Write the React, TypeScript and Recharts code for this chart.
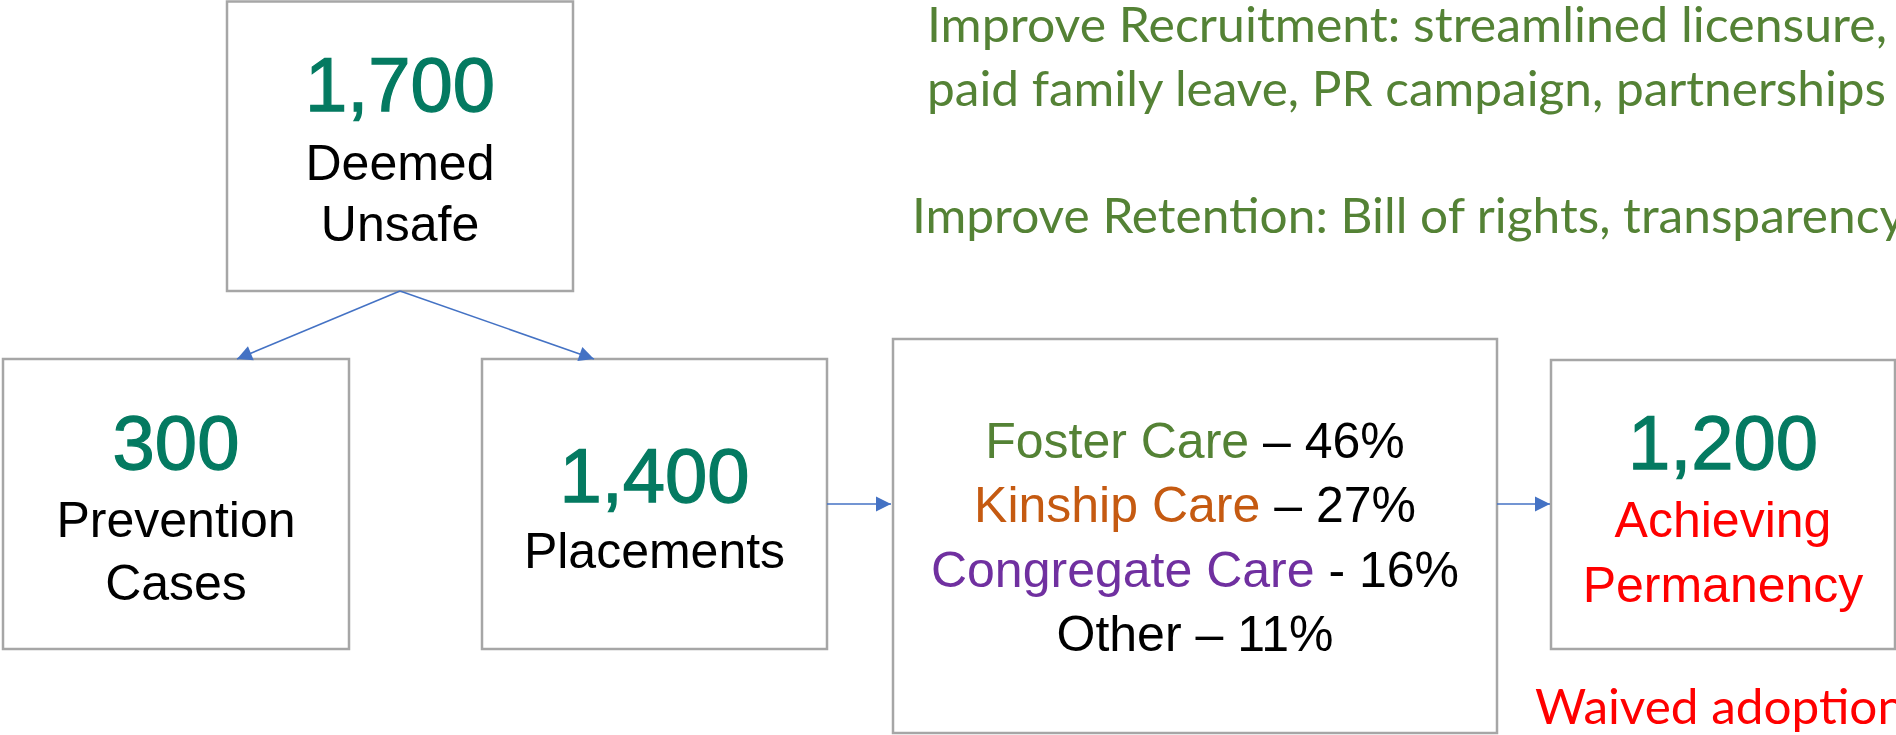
import React from 'react';
import { ComposedChart, XAxis, YAxis, Scatter, ReferenceArea, ReferenceLine } from 'recharts';

// ---------- data ----------
const nodeValues = [1700, 300, 1400, 1200];
const nodeLabels = [['Deemed', 'Unsafe'], ['Prevention', 'Cases'], ['Placements'], ['Achieving', 'Permanency']];
const careCategories = ['Foster Care', 'Kinship Care', 'Congregate Care', 'Other'];
const careShares = [46, 27, 16, 11];
const careSeparators = [' – ', ' – ', ' - ', ' – '];
const recruitmentLines = ['Improve Recruitment: streamlined licensure,', 'paid family leave, PR campaign, partnerships'];
const retentionLines = ['Improve Retention: Bill of rights, transparency'];
const permanencyNotes = ['Waived adoption'];

// ---------- layout & style ----------
const W = 1896;
const H = 735;
const FRANKLIN = '"Liberation Sans", Arial, sans-serif';
const CALIBRI = 'Lato, "Open Sans", sans-serif';
const TEAL = '#047a61';
const GREEN = '#548235';
const RED = '#ff0000';
const BORDER = '#a6a6a6';
const ARROW = '#4472c4';

const nodeBoxes = [
  { x1: 227, x2: 573, y1: 1.5, y2: 291 },
  { x1: 3, x2: 349, y1: 359, y2: 649 },
  { x1: 482, x2: 827, y1: 359, y2: 649 },
  { x1: 1551, x2: 1895, y1: 360, y2: 649 },
];
const careBox = { x1: 893, x2: 1497, y1: 339, y2: 733 };
const nodeValueY = [111, 469, 502, 469];
const nodeLabelY = [[180, 241], [537, 600], [568], [537, 602]];
const nodeLabelColors = ['#000', '#000', '#000', RED];
const careLineY = [458, 522, 587, 651];
const careColors = [GREEN, '#c55a11', '#7030a0', '#000'];
const arrows = [
  { from: [400, 291], to: [237, 359] },
  { from: [400, 291], to: [594, 359] },
  { from: [827, 504], to: [891, 504] },
  { from: [1497, 504], to: [1550, 504] },
];
const recruitmentLayout = { x: 927, y: [42, 106], len: [960, 959] };
const retentionLayout = { x: 912, y: [233], len: [993] };
const notesLayout = { x: 1535, y: [724], len: [370] };

// ---------- build text items ----------
type Part = { text: string; color: string };
type TextItem = { x: number; y: number; anchor: string; font: string; size: number; parts: Part[]; len?: number; weight?: number };

const textItems: TextItem[] = [];
nodeValues.forEach((v, i) => {
  const b = nodeBoxes[i];
  const cx = (b.x1 + b.x2) / 2;
  textItems.push({ x: cx, y: nodeValueY[i], anchor: 'middle', font: FRANKLIN, size: 76, weight: 1.3, parts: [{ text: v.toLocaleString('en-US'), color: TEAL }] });
  nodeLabels[i].forEach((lab, j) => {
    textItems.push({ x: cx, y: nodeLabelY[i][j], anchor: 'middle', font: FRANKLIN, size: 50, parts: [{ text: lab, color: nodeLabelColors[i] }] });
  });
});
careCategories.forEach((c, i) => {
  textItems.push({
    x: (careBox.x1 + careBox.x2) / 2,
    y: careLineY[i],
    anchor: 'middle',
    font: FRANKLIN,
    size: 50,
    parts: [
      { text: c, color: careColors[i] },
      { text: `${careSeparators[i]}${careShares[i]}%`, color: '#000' },
    ],
  });
});
recruitmentLines.forEach((t, i) => {
  textItems.push({ x: recruitmentLayout.x, y: recruitmentLayout.y[i], anchor: 'start', font: CALIBRI, size: 48, len: recruitmentLayout.len[i], parts: [{ text: t, color: GREEN }] });
});
retentionLines.forEach((t, i) => {
  textItems.push({ x: retentionLayout.x, y: retentionLayout.y[i], anchor: 'start', font: CALIBRI, size: 48, len: retentionLayout.len[i], parts: [{ text: t, color: GREEN }] });
});
permanencyNotes.forEach((t, i) => {
  textItems.push({ x: notesLayout.x, y: notesLayout.y[i], anchor: 'start', font: CALIBRI, size: 49, len: notesLayout.len[i], parts: [{ text: t, color: RED }] });
});

const arrowHeads = arrows.map((a) => ({
  x: a.to[0],
  y: a.to[1],
  angle: Math.atan2(a.to[1] - a.from[1], a.to[0] - a.from[0]),
}));

const TextShape = (props: any) => {
  const { cx, cy, payload } = props;
  const p = payload as TextItem;
  const strokeProps = p.weight ? { stroke: p.parts[0].color, strokeWidth: p.weight } : {};
  return (
    <text
      x={cx}
      y={cy}
      textAnchor={p.anchor}
      fontFamily={p.font}
      fontSize={p.size}
      {...(p.len ? { textLength: p.len, lengthAdjust: 'spacingAndGlyphs' } : {})}
    >
      {p.parts.map((pt, k) => (
        <tspan key={k} fill={pt.color} {...strokeProps}>{pt.text}</tspan>
      ))}
    </text>
  );
};

const ArrowHeadShape = (props: any) => {
  const { cx, cy, payload } = props;
  const L = 15;
  const HW = 7.5;
  const a = payload.angle as number;
  const bx = cx - L * Math.cos(a);
  const by = cy - L * Math.sin(a);
  const nx = -Math.sin(a);
  const ny = Math.cos(a);
  const pts = `${cx},${cy} ${bx + HW * nx},${by + HW * ny} ${bx - HW * nx},${by - HW * ny}`;
  return <polygon points={pts} fill={ARROW} stroke="none" />;
};

export default function App() {
  return (
    <div style={{ position: 'absolute', left: 0, top: 0, width: W, height: H, background: '#fff' }}>
      <ComposedChart width={W} height={H} margin={{ top: 0, right: 0, bottom: 0, left: 0 }}>
        <XAxis type="number" dataKey="x" domain={[0, W]} hide allowDataOverflow={false} />
        <YAxis type="number" dataKey="y" domain={[0, H]} reversed hide />
        {nodeBoxes.map((b, i) => (
          <ReferenceArea key={`n${i}`} x1={b.x1} x2={b.x2} y1={b.y1} y2={b.y2} fill="#fff" fillOpacity={1} stroke={BORDER} strokeWidth={2.5} ifOverflow="visible" />
        ))}
        <ReferenceArea x1={careBox.x1} x2={careBox.x2} y1={careBox.y1} y2={careBox.y2} fill="#fff" fillOpacity={1} stroke={BORDER} strokeWidth={2.5} ifOverflow="visible" />
        {arrows.map((a, i) => (
          <ReferenceLine key={`a${i}`} segment={[{ x: a.from[0], y: a.from[1] }, { x: a.to[0], y: a.to[1] }]} stroke={ARROW} strokeWidth={1.5} ifOverflow="visible" />
        ))}
        <Scatter data={arrowHeads} dataKey="y" shape={ArrowHeadShape} isAnimationActive={false} />
        <Scatter data={textItems} dataKey="y" shape={TextShape} isAnimationActive={false} />
      </ComposedChart>
    </div>
  );
}
